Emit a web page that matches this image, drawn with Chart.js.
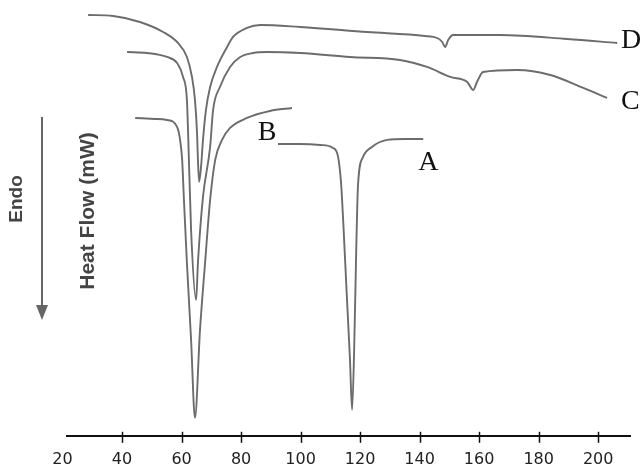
<!DOCTYPE html>
<html>
<head>
<meta charset="utf-8">
<script src="https://cdn.jsdelivr.net/npm/chart.js@4/dist/chart.umd.min.js"></script>
<style>
  html, body { margin: 0; padding: 0; background: #fff; overflow: hidden; }
  #wrap { width: 643px; height: 484px; position: relative; }
</style>
</head>
<body>
<div id="wrap"><canvas id="dsc"></canvas></div>
<script>
'use strict';

// temperature (°C) and heat flow (arbitrary mW, endo down)
const tempA = [92.4, 99.8, 106.6, 110.9, 112.6, 113.6, 114.3, 115.6, 116.6, 117.3, 118.0, 118.7, 119.3, 121.0, 124.0, 129.1, 135.1, 141.2];
const flowA = [29.2, 29.2, 29.1, 28.8, 27.9, 25.3, 21.6, 13.6, 7.6, 2.6, 8.6, 18.6, 25.1, 27.9, 28.9, 29.6, 29.7, 29.7];

const tempB = [44.4, 51.1, 55.1, 58.5, 59.5, 60.2, 60.8, 61.8, 63.2, 64.5, 66.2, 67.9, 69.6, 71.3, 73.6, 76.3, 82.0, 89.7, 97.1];
const flowB = [31.8, 31.7, 31.6, 30.9, 29.6, 27.6, 23.6, 17.3, 9.6, 1.8, 10.6, 17.3, 23.6, 27.6, 29.6, 30.8, 31.8, 32.5, 32.8];

const tempC = [41.7, 48.4, 55.1, 58.5, 60.5, 61.8, 62.2, 63.2, 64.9, 65.5, 67.2, 69.6, 70.6, 72.9, 76.3, 79.7, 84.0, 88.7, 99.8, 116.6, 133.4, 142.5, 150.3, 156.0, 158.0, 159.3, 161.3, 172.8, 183.9, 195.0, 203.0];
const flowC = [38.4, 38.3, 37.9, 37.3, 35.9, 33.6, 30.3, 20.6, 13.6, 17.3, 23.9, 28.9, 32.6, 34.9, 36.9, 37.9, 38.3, 38.4, 38.3, 37.9, 37.6, 36.9, 35.9, 35.4, 34.6, 35.4, 36.4, 36.6, 36.1, 34.8, 33.8];

const tempD = [28.6, 37.0, 46.0, 53.8, 58.8, 61.8, 63.5, 64.5, 65.2, 65.5, 65.9, 66.6, 67.2, 68.2, 69.6, 71.9, 75.3, 77.3, 82.0, 86.4, 99.8, 122.4, 141.8, 145.9, 147.6, 148.6, 149.6, 151.3, 167.1, 189.6, 206.4];
const flowD = [42.1, 42.0, 41.4, 40.4, 39.3, 37.9, 35.9, 33.6, 30.3, 27.6, 25.4, 27.1, 29.6, 32.6, 34.9, 36.9, 38.9, 39.9, 40.8, 41.1, 40.9, 40.4, 40.0, 39.8, 39.4, 38.9, 39.6, 40.1, 40.1, 39.7, 39.3];

const tempTicks = [20, 40, 60, 80, 100, 120, 140, 160, 180, 200];

const curveNames = ['A', 'B', 'C', 'D'];
const nameTemp = [142.9, 88.7, 210.8, 211.1];
const nameFlow = [27.3, 30.3, 33.4, 39.5];

const LINE_COLOR = '#6c6c6c';

function toPoints(xs, ys) {
  return xs.map((x, i) => ({ x, y: ys[i] }));
}

function curve(label, xs, ys) {
  return {
    label,
    data: toPoints(xs, ys),
    borderColor: LINE_COLOR,
    borderWidth: 1.9,
    pointRadius: 0,
    cubicInterpolationMode: 'monotone',
    fill: false,
  };
}

// crossing tick marks, curve letters, and the Endo / Heat Flow annotations
const decorations = {
  id: 'decorations',
  afterDraw(chart) {
    const { ctx, scales: { x, y }, chartArea } = chart;
    const axisY = chartArea.bottom;
    ctx.save();

    ctx.strokeStyle = '#111';
    ctx.lineWidth = 1.5;
    for (const t of tempTicks) {
      if (t < x.min || t > x.max) continue;
      const px = Math.round(x.getPixelForValue(t)) + 0.5;
      ctx.beginPath();
      ctx.moveTo(px, axisY - 4);
      ctx.lineTo(px, axisY + 7);
      ctx.stroke();
    }

    ctx.fillStyle = '#111';
    ctx.font = '28px "Liberation Serif", "Times New Roman", serif';
    ctx.textAlign = 'center';
    ctx.textBaseline = 'middle';
    curveNames.forEach((name, i) => {
      ctx.fillText(name, x.getPixelForValue(nameTemp[i]), y.getPixelForValue(nameFlow[i]));
    });

    // Endo arrow
    ctx.strokeStyle = '#666';
    ctx.fillStyle = '#666';
    ctx.lineWidth = 2;
    ctx.beginPath();
    ctx.moveTo(42, 117);
    ctx.lineTo(42, 308);
    ctx.stroke();
    ctx.beginPath();
    ctx.moveTo(36, 305);
    ctx.lineTo(48, 305);
    ctx.lineTo(42, 320);
    ctx.closePath();
    ctx.fill();

    ctx.fillStyle = '#444';
    ctx.textAlign = 'center';
    ctx.textBaseline = 'middle';
    ctx.save();
    ctx.translate(17, 199);
    ctx.rotate(-Math.PI / 2);
    ctx.font = 'bold 19px "Liberation Sans", Arial, sans-serif';
    ctx.fillText('Endo', 0, 0);
    ctx.restore();

    ctx.save();
    ctx.translate(88, 211);
    ctx.rotate(-Math.PI / 2);
    ctx.font = 'bold 21px "Liberation Sans", Arial, sans-serif';
    ctx.fillText('Heat Flow (mW)', 0, 0);
    ctx.restore();

    ctx.restore();
  },
};

new Chart(document.getElementById('dsc'), {
  type: 'line',
  data: {
    datasets: [
      curve('A', tempA, flowA),
      curve('B', tempB, flowB),
      curve('C', tempC, flowC),
      curve('D', tempD, flowD),
    ],
  },
  options: {
    responsive: true,
    maintainAspectRatio: false,
    animation: false,
    events: [],
    layout: { padding: { left: 67, right: 13, top: 0, bottom: 1 } },
    plugins: {
      legend: { display: false },
      tooltip: { enabled: false },
    },
    scales: {
      x: {
        type: 'linear',
        min: 21.5,
        max: 210.7,
        afterBuildTicks(scale) {
          scale.ticks = tempTicks.map((value) => ({ value }));
        },
        grid: { display: false, drawTicks: false },
        border: { display: true, color: '#111', width: 2 },
        ticks: {
          padding: 14,
          color: '#222',
          maxRotation: 0,
          autoSkip: false,
          font: { family: '"DejaVu Sans", sans-serif', size: 16 },
        },
      },
      y: {
        display: false,
        min: 0,
        max: 43.6,
      },
    },
  },
  plugins: [decorations],
});
</script>
</body>
</html>
